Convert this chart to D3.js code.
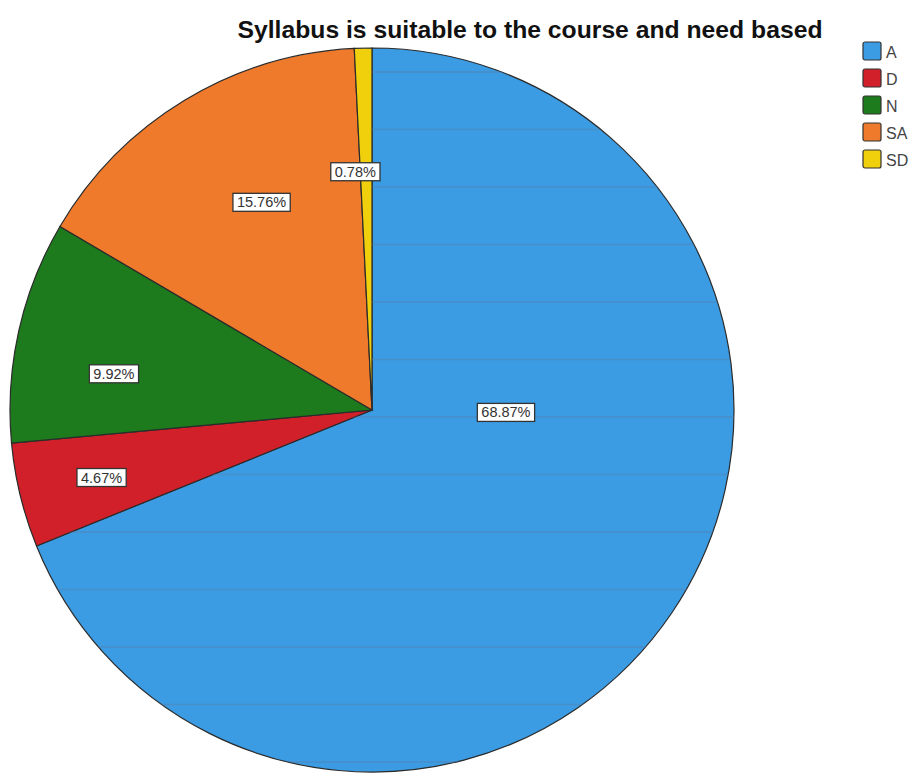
<!DOCTYPE html>
<html>
<head>
<meta charset="utf-8">
<script src="https://cdn.jsdelivr.net/npm/d3@7"></script>
<style>
  body { margin: 0; background: #fff; }
  svg { display: block; font-family: "Liberation Sans", Arial, sans-serif; }
</style>
</head>
<body>
<div id="chart"></div>
<script>
const categories = ['A', 'D', 'N', 'SA', 'SD'];
const percents = [68.87, 4.67, 9.92, 15.76, 0.78];
const sliceColors = ['#3b9ce3', '#d2202a', '#1d7a1d', '#ef7a2c', '#f0cf0c'];
const chartTitle = 'Syllabus is suitable to the course and need based';

// where SPSS dropped each label: [angle in degrees from 12 o'clock, fraction of radius]
const labelPlacement = [[91, 0.37], [256, 0.77], [278, 0.72], [332, 0.65], [356, 0.66]];

const width = 922;
const height = 776;
const cx = 372;
const cy = 410;
const radius = 362;

const data = categories.map((c, i) => ({ key: c, value: percents[i], color: sliceColors[i] }));

const svg = d3.select('#chart')
  .append('svg')
    .attr('width', width)
    .attr('height', height);

svg.append('text')
  .attr('x', 530)
  .attr('y', 38)
  .attr('text-anchor', 'middle')
  .attr('font-weight', 'bold')
  .attr('font-size', 24)
  .attr('textLength', 585)
  .attr('lengthAdjust', 'spacingAndGlyphs')
  .attr('fill', '#111')
  .text(chartTitle);

const pie = d3.pie()
  .value(d => d.value)
  .sort(null);

const arc = d3.arc()
  .innerRadius(0)
  .outerRadius(radius);

const arcs = pie(data);

const g = svg.append('g')
  .attr('transform', `translate(${cx}, ${cy})`);

g.append('clipPath')
  .attr('id', 'clipA')
  .append('path')
    .attr('d', arc(arcs[0]));

g.selectAll('path.slice')
  .data(arcs)
  .join('path')
    .attr('class', 'slice')
    .attr('d', arc)
    .attr('fill', d => d.data.color)
    .attr('stroke', '#2b2b2b')
    .attr('stroke-width', 1.2);

// faint horizontal banding visible on the big slice
g.append('g')
  .attr('clip-path', 'url(#clipA)')
  .selectAll('line')
  .data(d3.range(72, height, 57.5))
  .join('line')
    .attr('x1', -radius)
    .attr('x2', radius)
    .attr('y1', d => d - cy)
    .attr('y2', d => d - cy)
    .attr('stroke', '#5a7fa8')
    .attr('stroke-opacity', 0.45)
    .attr('stroke-width', 1.5);

// labels
const labels = g.selectAll('g.lbl')
  .data(arcs)
  .join('g')
    .attr('class', 'lbl')
    .attr('transform', (d, i) => {
      const a = labelPlacement[i][0] * Math.PI / 180;
      const r = labelPlacement[i][1] * radius;
      return `translate(${r * Math.sin(a)}, ${-r * Math.cos(a)})`;
    });

labels.append('text')
  .attr('text-anchor', 'middle')
  .attr('dy', '0.35em')
  .attr('font-size', 14.5)
  .attr('fill', '#333')
  .text(d => `${d.data.value.toFixed(2)}%`);

labels.each(function() {
  const grp = d3.select(this);
  const b = grp.select('text').node().getBBox();
  grp.insert('rect', 'text')
    .attr('x', b.x - 4)
    .attr('y', b.y - 1)
    .attr('width', b.width + 8)
    .attr('height', b.height + 2)
    .attr('fill', '#fff')
    .attr('stroke', '#333')
    .attr('stroke-width', 1.3);
});

// legend
const legend = svg.append('g')
  .attr('transform', 'translate(863, 42)');

const item = legend.selectAll('g')
  .data(data)
  .join('g')
    .attr('transform', (d, i) => `translate(0, ${i * 27})`);

item.append('rect')
  .attr('width', 18)
  .attr('height', 18)
  .attr('rx', 2)
  .attr('fill', d => d.color)
  .attr('stroke', '#333')
  .attr('stroke-width', 1.2);

item.append('text')
  .attr('x', 23)
  .attr('y', 10)
  .attr('dy', '0.35em')
  .attr('font-size', 16)
  .attr('fill', '#444')
  .text(d => d.key);
</script>
</body>
</html>
